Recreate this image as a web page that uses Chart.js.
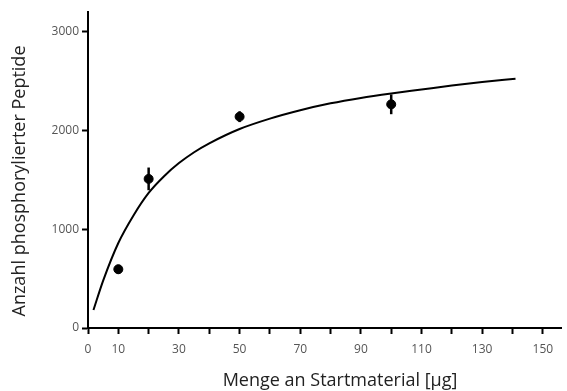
<!DOCTYPE html>
<html>
<head>
<meta charset="utf-8">
<script src="https://cdn.jsdelivr.net/npm/chart.js@4/dist/chart.umd.min.js"></script>
<style>
    html, body { margin: 0; padding: 0; background: #fff; }
    #wrap { width: 567px; height: 391px; }
</style>
</head>
<body>
<div id="wrap"><canvas id="chart-peptides"></canvas></div>
<script>
// measured points (mean +/- error)
const amountUg = [10, 20, 50, 100];
const peptideCount = [595, 1510, 2140, 2265];
const peptideErr = [45, 115, 55, 100];

// fitted saturation curve
const fitX = [1.8, 5, 10, 15, 20, 25, 30, 35, 40, 50, 60, 70, 80, 90, 100, 110, 120, 130, 141];
const fitY = [182, 480, 861, 1140, 1368, 1535, 1670, 1780, 1870, 2015, 2120, 2205, 2275, 2330, 2375, 2415, 2455, 2490, 2525];

const xTicks = [0, 10, 20, 30, 40, 50, 60, 70, 80, 90, 100, 110, 120, 130, 140, 150];
const xLabels = [0, 10, 30, 50, 70, 90, 110, 130, 150];
const yTicks = [0, 1000, 2000, 3000];

const xTitle = 'Menge an Startmaterial [µg]';
const yTitle = 'Anzahl phosphorylierter Peptide';

const FONT = '"Open Sans", "DejaVu Sans", sans-serif';

const errorBars = {
    id: 'errorBars',
    afterDatasetsDraw(chart) {
        const ctx = chart.ctx;
        const xs = chart.scales.x, ys = chart.scales.y;
        ctx.save();
        ctx.strokeStyle = '#000';
        ctx.lineWidth = 2.5;
        amountUg.forEach((x, i) => {
            const px = xs.getPixelForValue(x);
            const top = ys.getPixelForValue(peptideCount[i] + peptideErr[i]);
            const bot = ys.getPixelForValue(peptideCount[i] - peptideErr[i]);
            ctx.beginPath();
            ctx.moveTo(px, top);
            ctx.lineTo(px, bot);
            ctx.stroke();
        });
        ctx.restore();
    }
};

// axis titles sit a bit off the plot centre in the original, so draw them here
const axisTitles = {
    id: 'axisTitles',
    afterDraw(chart) {
        const ctx = chart.ctx;
        ctx.save();
        ctx.fillStyle = '#222';
        ctx.font = '18px ' + FONT;
        ctx.textAlign = 'center';
        ctx.textBaseline = 'middle';
        ctx.fillText(xTitle, 340, 381);
        ctx.translate(20, 181);
        ctx.rotate(-Math.PI / 2);
        ctx.fillText(yTitle, 0, 0);
        ctx.restore();
    }
};

var options = {
    type: 'scatter',
    data: {
        datasets: [{
            data: fitX.map((x, i) => ({ x: x, y: fitY[i] })),
            showLine: true,
            borderColor: '#000',
            borderWidth: 2,
            pointRadius: 0,
            cubicInterpolationMode: 'monotone'
        },
        {
            data: amountUg.map((x, i) => ({ x: x, y: peptideCount[i] })),
            backgroundColor: '#000',
            borderColor: '#000',
            pointRadius: 4.5
        }]
    },
    options: {
        responsive: true,
        maintainAspectRatio: false,
        animation: false,
        events: [],
        layout: { padding: { left: 0, right: 6, top: 12, bottom: 0 } },
        plugins: { legend: { display: false }, tooltip: { enabled: false } },
        scales: {
            x: {
                type: 'linear',
                min: 0,
                max: 156,
                afterBuildTicks: (scale) => { scale.ticks = xTicks.map(v => ({ value: v })); },
                afterFit: (scale) => { scale.height = 63; },
                border: { color: '#000', width: 2 },
                grid: { drawOnChartArea: false, drawTicks: true, tickLength: 6, tickWidth: 2, color: '#000' },
                ticks: {
                    autoSkip: false,
                    maxRotation: 0,
                    padding: 8,
                    color: '#555',
                    font: { family: FONT, size: 12 },
                    callback: (v) => xLabels.includes(v) ? String(v) : ''
                }
            },
            y: {
                min: 0,
                max: 3200,
                afterBuildTicks: (scale) => { scale.ticks = yTicks.map(v => ({ value: v })); },
                afterFit: (scale) => { scale.width = 88; },
                border: { color: '#000', width: 2 },
                grid: { drawOnChartArea: false, drawTicks: true, tickLength: 6, tickWidth: 2, color: '#000' },
                ticks: {
                    padding: 3,
                    color: '#555',
                    font: { family: FONT, size: 12 },
                    callback: (v) => String(v)
                }
            }
        }
    },
    plugins: [errorBars, axisTitles]
};

var ctx = document.getElementById('chart-peptides').getContext('2d');
new Chart(ctx, options);
</script>
</body>
</html>
